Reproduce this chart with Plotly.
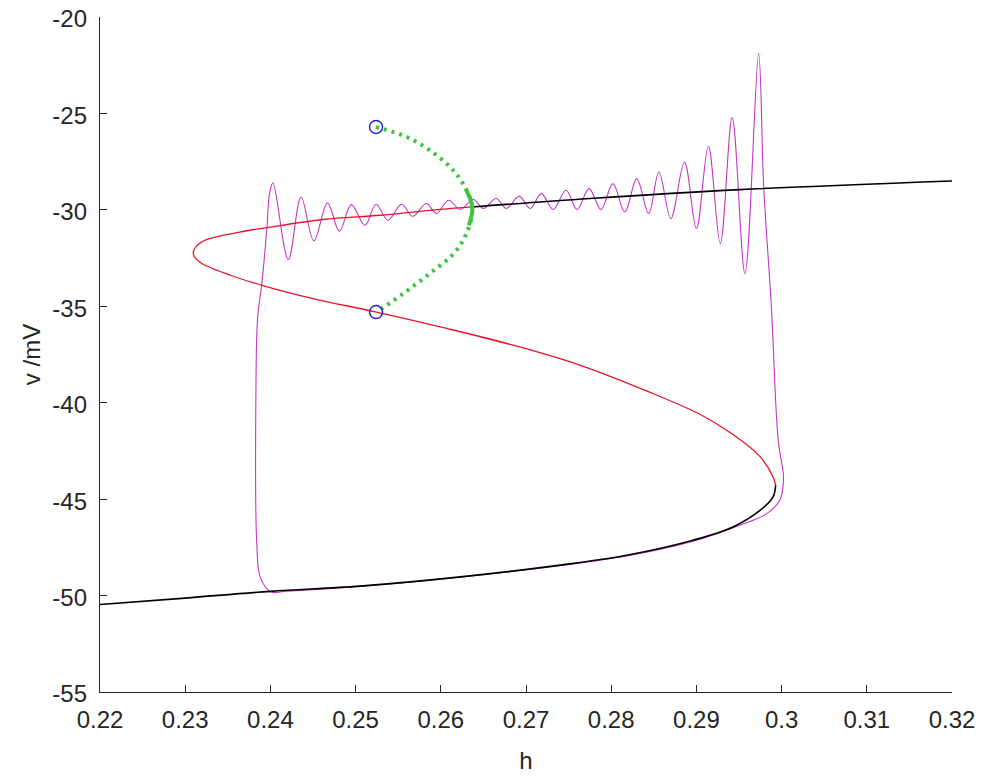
import plotly.graph_objects as go

# ---- data ----
# stable lower branch (black)
lower_h = [0.2200, 0.2300, 0.2400, 0.2505, 0.2623, 0.2740, 0.2818, 0.2896, 0.2943, 0.2975, 0.2990, 0.2993]
lower_v = [-50.46, -50.13, -49.78, -49.51, -49.03, -48.42, -47.91, -47.13, -46.44, -45.57, -44.88, -44.28]

# stable upper branch (black), from Hopf point to the right
upper_h = [0.2637, 0.2775, 0.2951, 0.3200]
upper_v = [-29.85, -29.41, -28.95, -28.50]

# unstable branch (red), from Hopf point around the left fold to the right fold
red_h = [0.2637, 0.2599, 0.2529, 0.2462, 0.2396, 0.2364, 0.2325, 0.2314, 0.23095,
         0.2317, 0.2353, 0.2390, 0.2450, 0.2523, 0.2607, 0.2685, 0.2763, 0.2842,
         0.2904, 0.2943, 0.2975, 0.2990, 0.2993]
red_v = [-29.85, -29.98, -30.28, -30.50, -30.92, -31.15, -31.54, -31.84, -32.27,
         -32.70, -33.39, -33.91, -34.60, -35.29, -36.15, -37.02, -38.05, -39.40,
         -40.60, -41.65, -42.81, -43.85, -44.28]

# unstable periodic orbit max / min (green dotted)
green_h = [0.2524, 0.2560, 0.2587, 0.2611, 0.2626, 0.2637, 0.2630, 0.2615, 0.2587, 0.2556, 0.2525]
green_v = [-25.70, -26.22, -26.91, -27.78, -28.64, -29.85, -31.23, -32.27, -33.30, -34.34, -35.29]
# part near the Hopf point where the dots merge into a solid band
green_tip_h = [0.2629, 0.2637, 0.2633]
green_tip_v = [-28.90, -29.85, -30.80]

# end points of the periodic branch (blue circles)
circle_h = [0.2524, 0.2524]
circle_v = [-25.70, -35.30]

# trajectory (magenta)
traj_h = [0.2400, 0.2388, 0.2384, 0.2383, 0.2385, 0.2390, 0.2396, 0.2399, 0.2403,
          0.2421, 0.2436, 0.2451, 0.2467, 0.2481, 0.2495, 0.2511, 0.2524, 0.2538, 0.2554,
          0.2567, 0.2583, 0.2595, 0.2609, 0.2623, 0.2638, 0.2650, 0.2665, 0.2677, 0.2692,
          0.2705, 0.2718, 0.2732, 0.2747, 0.2760, 0.2774, 0.2788, 0.2802, 0.2816, 0.2830,
          0.2844, 0.2856, 0.2870, 0.2886, 0.2900, 0.2914, 0.2928, 0.2942, 0.2957, 0.2973,
          0.2979, 0.2988, 0.2996, 0.3002, 0.3002, 0.2998, 0.2983, 0.2951, 0.2896, 0.2818,
          0.2740, 0.2623, 0.2505, 0.2420, 0.2400]
traj_v = [-49.80, -49.03, -47.30, -39.50, -35.60, -33.80, -30.90, -29.15, -28.60,
          -32.58, -29.33, -31.61, -29.64, -31.11, -29.73, -30.80, -29.71, -30.54, -29.71,
          -30.33, -29.67, -30.19, -29.50, -29.98, -29.45, -29.93, -29.41, -29.93, -29.29,
          -29.93, -29.16, -29.98, -28.98, -29.98, -28.90, -29.98, -28.64, -30.11, -28.38,
          -30.19, -28.04, -30.45, -27.52, -30.97, -26.70, -31.75, -25.22, -33.30, -21.90,
          -28.81, -35.03, -41.94, -43.67, -44.19, -45.05, -45.74, -46.35, -47.18, -47.95,
          -48.45, -49.05, -49.53, -49.77, -49.80]

x_ticks = [0.22, 0.23, 0.24, 0.25, 0.26, 0.27, 0.28, 0.29, 0.30, 0.31, 0.32]
x_ticktext = ["0.22", "0.23", "0.24", "0.25", "0.26", "0.27", "0.28", "0.29", "0.3", "0.31", "0.32"]
y_ticks = [-55, -50, -45, -40, -35, -30, -25, -20]
y_ticktext = ["-55", "-50", "-45", "-40", "-35", "-30", "-25", "-20"]

TXT = "#262626"
FONT = "Liberation Sans, Arial, sans-serif"

fig = go.Figure()
fig.add_trace(go.Scatter(x=traj_h, y=traj_v, mode="lines", line=dict(color="#c535c5", width=1.1, shape="spline"), hoverinfo="skip"))
fig.add_trace(go.Scatter(x=red_h, y=red_v, mode="lines", line=dict(color="#e8142a", width=1.3, shape="spline"), hoverinfo="skip"))
fig.add_trace(go.Scatter(x=lower_h, y=lower_v, mode="lines", line=dict(color="#000000", width=1.6, shape="spline"), hoverinfo="skip"))
fig.add_trace(go.Scatter(x=upper_h, y=upper_v, mode="lines", line=dict(color="#000000", width=1.6, shape="spline"), hoverinfo="skip"))
fig.add_trace(go.Scatter(x=green_h, y=green_v, mode="lines", line=dict(color="#3fc43f", width=4, dash="3px,5px", shape="spline"), hoverinfo="skip"))
fig.add_trace(go.Scatter(x=green_tip_h, y=green_tip_v, mode="lines", line=dict(color="#3fc43f", width=4, shape="spline"), hoverinfo="skip"))
fig.add_trace(go.Scatter(x=circle_h, y=circle_v, mode="markers",
                         marker=dict(symbol="circle-open", size=13, color="#2222dd", line=dict(width=1.4, color="#2222dd")),
                         hoverinfo="skip"))

fig.update_layout(
    width=983, height=779,
    margin=dict(l=100, r=31, t=17, b=87),
    paper_bgcolor="white", plot_bgcolor="white",
    showlegend=False,
    font=dict(family=FONT, size=24, color=TXT),
)
fig.update_xaxes(
    range=[0.22, 0.32], tickvals=x_ticks, ticktext=x_ticktext,
    showline=True, linecolor=TXT, linewidth=1.3, mirror=False,
    ticks="inside", ticklen=7, tickwidth=1.3, tickcolor=TXT,
    showgrid=False, zeroline=False, ticklabelstandoff=6, automargin=False,
    ticklabeloverflow="allow",
    title=dict(text="h", font=dict(size=24, color=TXT), standoff=20),
    tickfont=dict(size=24, color=TXT),
)
fig.update_yaxes(
    range=[-55, -20], tickvals=y_ticks, ticktext=y_ticktext,
    showline=True, linecolor=TXT, linewidth=1.3, mirror=False,
    ticks="inside", ticklen=7, tickwidth=1.3, tickcolor=TXT,
    showgrid=False, zeroline=False, ticklabelstandoff=7, automargin=False,
    ticklabeloverflow="allow", ticklabelshift=2,
    title=dict(text="v /mV", font=dict(size=24, color=TXT), standoff=4),
    tickfont=dict(size=24, color=TXT),
)

# remove the browser's default 8px page margin so the 983x779 figure fills the window exactly
fig.write_html("out.html", config={"displayModeBar": False},
               post_script="document.body.style.margin='0';")
